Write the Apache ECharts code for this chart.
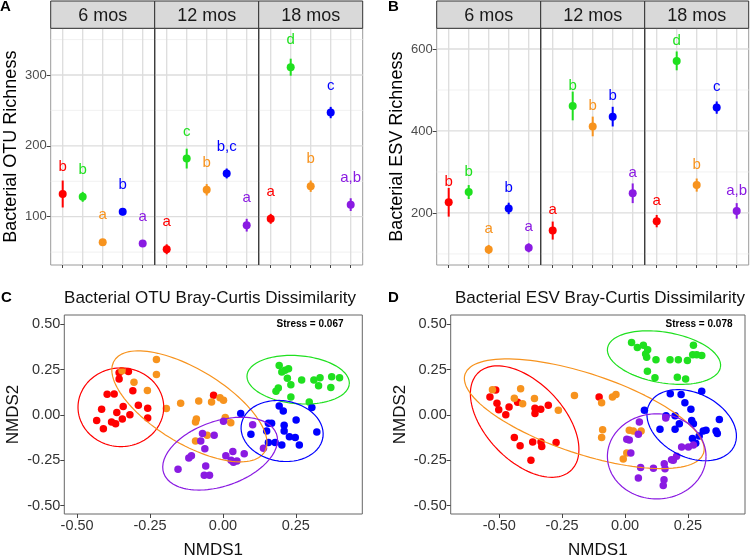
<!DOCTYPE html>
<html><head><meta charset="utf-8">
<script src="https://cdn.jsdelivr.net/npm/echarts@6/dist/echarts.min.js"></script>
<style>html,body{margin:0;padding:0;background:#fff}#c{width:750px;height:560px}</style>
</head><body><div id="c"></div>
<script>
// ---------- data ----------
const groupColors = ['#FF0000', '#1FE01F', '#F7931E', '#0000FF', '#8A1BE2']; // red, green, orange, blue, purple
const facets = ['6 mos', '12 mos', '18 mos'];
const catPos = [1, 2, 3, 4, 5];

// Panel A: Bacterial OTU richness (mean, se) per facet, group order red/green/orange/blue/purple
const otuMean6 = [132, 128, 64, 107, 62];
const otuMean12 = [54, 182, 138, 161, 88];
const otuMean18 = [97, 311, 143, 247, 117];
const otuSE6 = [19, 7, 4, 5, 4];
const otuSE12 = [7, 14, 8, 7, 9];
const otuSE18 = [7, 12, 8, 8, 9];
const otuLet6 = ['b', 'b', 'a', 'b', 'a'];
const otuLet12 = ['a', 'c', 'b', 'b,c', 'a'];
const otuLet18 = ['a', 'd', 'b', 'c', 'a,b'];
const otuTicks = [100, 200, 300];
const otuMinor = [50, 150, 250, 350];

// Panel B: Bacterial ESV richness
const esvMean6 = [226, 251, 111, 211, 115];
const esvMean12 = [157, 461, 411, 435, 248];
const esvMean18 = [180, 571, 268, 457, 205];
const esvSE6 = [35, 17, 11, 14, 11];
const esvSE12 = [22, 35, 24, 24, 24];
const esvSE18 = [15, 23, 16, 15, 19];
const esvLet6 = ['b', 'b', 'a', 'b', 'a'];
const esvLet12 = ['a', 'b', 'b', 'b', 'a'];
const esvLet18 = ['a', 'd', 'b', 'c', 'a,b'];
const esvTicks = [200, 400, 600];
const esvMinor = [100, 300, 500];

// Panel C: OTU NMDS
const cRed = [[-0.356,0.233],[-0.324,0.240],[-0.356,0.199],[-0.397,0.115],[-0.373,0.116],[-0.309,0.134],[-0.416,0.032],[-0.364,0.014],[-0.342,0.047],[-0.290,0.054],[-0.258,0.038],[-0.433,-0.030],[-0.382,-0.039],[-0.368,-0.048],[-0.345,-0.022],[-0.319,0.002],[-0.258,-0.016],[-0.410,-0.075],[-0.032,0.109]];
const cGreen = [[0.193,0.274],[0.213,0.247],[0.225,0.256],[0.202,0.238],[0.221,0.203],[0.233,0.167],[0.270,0.194],[0.312,0.194],[0.333,0.206],[0.328,0.161],[0.373,0.211],[0.400,0.206],[0.370,0.152],[0.190,0.149],[0.182,0.131],[0.233,0.099],[0.296,0.072]];
const cOrange = [[-0.228,0.306],[-0.228,0.224],[-0.346,0.244],[-0.305,0.181],[-0.259,0.136],[-0.194,0.036],[-0.145,0.065],[-0.083,0.077],[-0.039,0.072],[-0.010,0.095],[0.002,0.082],[-0.091,-0.022],[-0.094,-0.039],[0.008,-0.013],[0.027,-0.043],[-0.054,-0.111],[-0.094,-0.143]];
const cBlue = [[0.193,0.050],[0.207,0.023],[0.305,0.041],[0.061,0.009],[0.156,-0.045],[0.167,-0.045],[0.210,-0.057],[0.251,-0.027],[0.210,-0.088],[0.096,-0.106],[0.322,-0.093],[0.228,-0.120],[0.248,-0.124],[0.156,-0.152],[0.179,-0.152],[0.202,-0.165],[0.262,-0.165],[0.150,-0.088]];
const cPurple = [[0.002,-0.034],[0.102,-0.054],[-0.030,-0.111],[0.139,-0.183],[0.034,-0.201],[0.073,-0.213],[0.010,-0.224],[0.028,-0.249],[0.048,-0.254],[0.036,-0.260],[-0.070,-0.102],[-0.076,-0.143],[-0.062,-0.186],[-0.108,-0.224],[-0.117,-0.237],[-0.154,-0.299],[-0.059,-0.281],[-0.064,-0.332],[-0.046,-0.332]];
// ellipse (center, conjugate semi-axis vectors u, v) per group
const cEllCenter = [[-0.350,0.043],[0.258,0.195],[-0.115,0.048],[0.203,-0.088],[-0.0096,-0.213]];
const cEllU = [[0.147,0],[0.1754,-0.024],[0.257,-0.254],[0.1396,-0.0385],[0.193,0.110]];
const cEllV = [[0,0.217],[-0.0073,-0.132],[-0.0688,-0.171],[-0.0184,-0.164],[0.039,-0.168]];

// Panel D: ESV NMDS
const dRed = [[-0.514,0.138],[-0.537,0.100],[-0.509,0.065],[-0.502,0.029],[-0.474,0.002],[-0.461,0.045],[-0.427,0.070],[-0.358,0.038],[-0.358,0.009],[-0.335,0.032],[-0.305,0.054],[-0.440,-0.124],[-0.417,-0.170],[-0.367,-0.149],[-0.334,-0.149],[-0.331,-0.174],[-0.274,-0.152],[-0.374,-0.249],[-0.103,0.099]];
const dGreen = [[0.026,0.400],[0.049,0.373],[0.073,0.385],[0.090,0.360],[0.086,0.319],[0.123,0.305],[0.179,0.305],[0.212,0.305],[0.248,0.301],[0.269,0.332],[0.285,0.332],[0.305,0.328],[0.272,0.385],[0.089,0.242],[0.119,0.206],[0.208,0.208],[0.241,0.199],[0.082,0.337]];
const dOrange = [[-0.527,0.140],[-0.440,0.093],[-0.415,0.145],[-0.407,0.063],[-0.360,0.091],[-0.265,0.027],[-0.201,0.108],[-0.050,0.100],[-0.036,0.113],[-0.093,0.068],[-0.089,-0.081],[-0.093,-0.124],[0.017,-0.084],[0.033,-0.088],[0.064,-0.088],[0.007,-0.210],[-0.007,-0.242]];
const dBlue = [[0.180,0.118],[0.223,0.113],[0.305,0.131],[0.077,0.027],[0.139,-0.079],[0.163,-0.004],[0.199,-0.004],[0.216,-0.048],[0.199,-0.079],[0.262,0.032],[0.265,-0.030],[0.272,-0.048],[0.311,-0.088],[0.322,-0.084],[0.268,-0.129],[0.281,-0.156],[0.295,-0.116],[0.362,-0.088],[0.367,-0.102],[0.375,-0.025],[0.238,0.068]];
const dPurple = [[0.057,-0.039],[0.007,-0.133],[0.017,-0.138],[0.053,-0.106],[0.023,-0.210],[0.062,-0.290],[0.053,-0.348],[0.113,-0.294],[0.156,-0.269],[0.159,-0.296],[0.155,-0.357],[0.152,-0.389],[0.185,-0.246],[0.205,-0.228],[0.225,-0.177],[0.252,-0.177],[0.272,-0.165],[0.162,-0.016],[0.192,-0.249]];
const dEllCenter = [[-0.399,-0.036],[0.155,0.317],[-0.162,0.007],[0.265,-0.056],[0.126,-0.228]];
const dEllU = [[0.1818,-0.273],[0.2244,-0.0536],[0.4738,-0.2194],[0.1673,-0.1203],[0.196,0]];
const dEllV = [[-0.1162,-0.1414],[-0.0179,-0.1376],[-0.0528,-0.2086],[-0.0609,-0.155],[0,0.235]];
const nmdsTicks = [-0.5, -0.25, 0, 0.25, 0.5];

// ---------- build ----------
const FONT = '"Liberation Sans", Arial, Helvetica, sans-serif';
const grids = [], xAxes = [], yAxes = [], series = [], graphics = [];

function facetPanel(left0, top, fw, height, yMin, yMax, ticks, minor, means, ses, lets, yName, labelOff) {
  for (let f = 0; f < 3; f++) {
    const gi = grids.length;
    const left = left0 + f * fw;
    grids.push({ left: left, top: top, width: fw, height: height, show: true, borderColor: '#9a9a9a', borderWidth: 1 });
    xAxes.push({ gridIndex: gi, type: 'value', min: 0.4, max: 5.6, axisLine: { show: false, onZero: false },
      axisTick: { show: true, customValues: catPos, length: 3, lineStyle: { color: '#444' } },
      axisLabel: { show: false }, splitLine: { show: false } });
    yAxes.push({ gridIndex: gi, type: 'value', min: yMin, max: yMax, axisLine: { show: false, onZero: false },
      axisTick: { show: f === 0, customValues: ticks, length: 4, lineStyle: { color: '#444' } },
      axisLabel: { show: f === 0, customValues: ticks, color: '#4D4D4D', fontSize: 13, margin: 4, fontFamily: FONT },
      splitLine: { show: false },
      name: f === 0 ? yName : '', nameLocation: 'middle', nameGap: 31,
      nameTextStyle: { fontSize: 18, color: '#000', fontFamily: FONT } });
    const pts = catPos.map((c, i) => [c, means[f][i], ses[f][i], i]);
    const letArr = lets[f];
    series.push({ type: 'custom', xAxisIndex: gi, yAxisIndex: gi, z: 3, data: pts,
      encode: { x: 0, y: 1 },
      renderItem: (params, api) => {
        const cs = params.coordSys;
        const x = api.value(0), m = api.value(1), s = api.value(2), g = api.value(3);
        const p = api.coord([x, m]), lo = api.coord([x, m - s]), hi = api.coord([x, m + s]);
        const col = groupColors[g];
        const children = [];
        if (params.dataIndex === 0) {
          // panel grid lines (minor, major horizontal; vertical at each category)
          minor.forEach(v => { const y = api.coord([x, v])[1];
            children.push({ type: 'line', shape: { x1: cs.x, y1: y, x2: cs.x + cs.width, y2: y }, style: { stroke: '#EDEDED', lineWidth: 0.8 } }); });
          ticks.forEach(v => { const y = api.coord([x, v])[1];
            children.push({ type: 'line', shape: { x1: cs.x, y1: y, x2: cs.x + cs.width, y2: y }, style: { stroke: '#DDDDDD', lineWidth: 1.3 } }); });
          catPos.forEach(v => { const xx = api.coord([v, m])[0];
            children.push({ type: 'line', shape: { x1: xx, y1: cs.y, x2: xx, y2: cs.y + cs.height }, style: { stroke: '#DDDDDD', lineWidth: 1.3 } }); });
        }
        children.push({ type: 'line', shape: { x1: p[0], y1: lo[1], x2: p[0], y2: hi[1] }, style: { stroke: col, lineWidth: 2 } });
        children.push({ type: 'circle', shape: { cx: p[0], cy: p[1], r: 4 }, style: { fill: col } });
        children.push({ type: 'text', x: p[0], y: p[1] - labelOff, style: { text: letArr[params.dataIndex], fill: col, font: '15px ' + FONT, align: 'center', verticalAlign: 'middle' } });
        return { type: 'group', children: children };
      } });
    // strip
    graphics.push({ type: 'rect', shape: { x: left, y: 1, width: fw, height: top - 1 }, style: { fill: '#D9D9D9', stroke: '#333', lineWidth: 1 }, z: 10 });
    graphics.push({ type: 'text', x: left + fw / 2, y: (top + 1) / 2 + 1, style: { text: facets[f], font: '18px ' + FONT, fill: '#1A1A1A', align: 'center', verticalAlign: 'middle' }, z: 11 });
    if (f > 0) graphics.push({ type: 'line', shape: { x1: left, y1: top, x2: left, y2: top + height }, style: { stroke: '#333', lineWidth: 1.2 }, z: 10 });
  }
}

facetPanel(50.7, 28.3, 104, 236.7, 31.8, 365.9, otuTicks, otuMinor,
  [otuMean6, otuMean12, otuMean18], [otuSE6, otuSE12, otuSE18], [otuLet6, otuLet12, otuLet18], 'Bacterial OTU Richness', 27);
facetPanel(436.7, 28.3, 104, 236.7, 73, 650.5, esvTicks, esvMinor,
  [esvMean6, esvMean12, esvMean18], [esvSE6, esvSE12, esvSE18], [esvLet6, esvLet12, esvLet18], 'Bacterial ESV Richness', 20.5);

function ellipsePoints(c, u, v) {
  const out = [];
  for (let k = 0; k <= 120; k++) {
    const t = 2 * Math.PI * k / 120;
    out.push([c[0] + u[0] * Math.cos(t) + v[0] * Math.sin(t), c[1] + u[1] * Math.cos(t) + v[1] * Math.sin(t)]);
  }
  return out;
}

function nmdsPanel(left, top, width, height, xMin, xMax, groupsPts, ellC, ellU, ellV) {
  const gi = grids.length;
  grids.push({ left: left, top: top, width: width, height: height, show: true, borderColor: '#666', borderWidth: 1 });
  xAxes.push({ gridIndex: gi, type: 'value', min: xMin, max: xMax, axisLine: { show: false, onZero: false },
    axisTick: { show: true, customValues: nmdsTicks.slice(0, 4), length: 4, lineStyle: { color: '#444' } },
    axisLabel: { customValues: nmdsTicks.slice(0, 4), formatter: v => v.toFixed(2), color: '#333', fontSize: 14.5, margin: 4, fontFamily: FONT },
    splitLine: { show: false }, name: 'NMDS1', nameLocation: 'middle', nameGap: 28,
    nameTextStyle: { fontSize: 17, color: '#111', fontFamily: FONT } });
  yAxes.push({ gridIndex: gi, type: 'value', min: -0.546, max: 0.552, axisLine: { show: false, onZero: false },
    axisTick: { show: true, customValues: nmdsTicks, length: 4, lineStyle: { color: '#444' } },
    axisLabel: { customValues: nmdsTicks, formatter: v => v.toFixed(2), color: '#333', fontSize: 14.5, margin: 4, fontFamily: FONT },
    splitLine: { show: false }, name: 'NMDS2', nameLocation: 'middle', nameGap: 42,
    nameTextStyle: { fontSize: 17, color: '#111', fontFamily: FONT } });
  groupsPts.forEach((pts, g) => {
    series.push({ type: 'scatter', xAxisIndex: gi, yAxisIndex: gi, data: pts, symbolSize: 7.5, z: 3,
      itemStyle: { color: groupColors[g], opacity: 1 }, silent: true });
  });
  groupsPts.forEach((pts, g) => {
    series.push({ type: 'line', xAxisIndex: gi, yAxisIndex: gi, data: ellipsePoints(ellC[g], ellU[g], ellV[g]),
      showSymbol: false, symbol: 'none', z: 4, silent: true, clip: true,
      lineStyle: { color: groupColors[g], width: 1.2 } });
  });
}

nmdsPanel(64.3, 315, 298, 204.3, -0.544, 0.478, [cRed, cGreen, cOrange, cBlue, cPurple], cEllCenter, cEllU, cEllV);
nmdsPanel(450.7, 315, 294.3, 204.3, -0.693, 0.477, [dRed, dGreen, dOrange, dBlue, dPurple], dEllCenter, dEllU, dEllV);

// titles and panel letters
graphics.push({ type: 'text', x: 210, y: 298, style: { text: 'Bacterial OTU Bray-Curtis Dissimilarity', font: '17px ' + FONT, fill: '#111', align: 'center', verticalAlign: 'middle' } });
graphics.push({ type: 'text', x: 600, y: 298, style: { text: 'Bacterial ESV Bray-Curtis Dissimilarity', font: '17px ' + FONT, fill: '#111', align: 'center', verticalAlign: 'middle' } });
graphics.push({ type: 'text', x: 310, y: 324, style: { text: 'Stress = 0.067', font: 'bold 10px ' + FONT, fill: '#000', align: 'center', verticalAlign: 'middle' }, z: 20 });
graphics.push({ type: 'text', x: 699, y: 324, style: { text: 'Stress = 0.078', font: 'bold 10px ' + FONT, fill: '#000', align: 'center', verticalAlign: 'middle' }, z: 20 });
[['A', 0, 7], ['B', 388, 7], ['C', 1, 298], ['D', 388, 298]].forEach(l => {
  graphics.push({ type: 'text', x: l[1], y: l[2], style: { text: l[0], font: 'bold 15px ' + FONT, fill: '#000', align: 'left', verticalAlign: 'middle' }, z: 20 });
});

const chart = echarts.init(document.getElementById('c'), null, { renderer: 'canvas' });
chart.setOption({
  animation: false,
  backgroundColor: '#fff',
  textStyle: { fontFamily: FONT },
  grid: grids, xAxis: xAxes, yAxis: yAxes, series: series, graphic: graphics
});
</script></body></html>
